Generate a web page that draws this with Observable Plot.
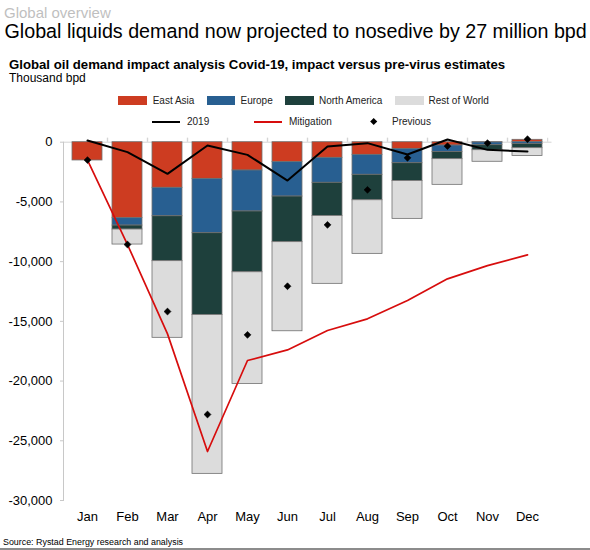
<!DOCTYPE html>
<html><head><meta charset="utf-8">
<script src="https://cdn.jsdelivr.net/npm/d3@7"></script>
<script src="https://cdn.jsdelivr.net/npm/@observablehq/plot@0.6"></script>
<style>
body{margin:0;background:#fff;font-family:"Liberation Sans",Arial,sans-serif;}
#wrap{position:relative;width:590px;height:550px;overflow:hidden;background:#fff;}
.t{position:absolute;white-space:nowrap;line-height:1;}
.sw{position:absolute;}
#chart{position:absolute;left:0;top:128px;}
</style></head><body><div id="wrap">
<div class="t" style="left:4px;top:4.5px;font-size:15px;color:#bfbfbf;">Global overview</div>
<div class="t" style="left:4.5px;top:22.3px;font-size:19.7px;color:#000;">Global liquids demand now projected to nosedive by 27 million bpd</div>
<div class="t" style="left:9px;top:57.8px;font-size:13.2px;font-weight:bold;color:#000;">Global oil demand impact analysis Covid-19, impact versus pre-virus estimates</div>
<div class="t" style="left:9px;top:71.8px;font-size:12px;color:#000;">Thousand bpd</div>
<div id="legend"></div>
<div id="chart"></div>
<div class="t" style="left:3px;top:538px;font-size:8.9px;color:#000;">Source: Rystad Energy research and analysis</div>
<div style="position:absolute;left:0;top:548px;width:590px;height:2px;background:#8c8c8c;"></div>
</div>
<script>
const months = ["Jan","Feb","Mar","Apr","May","Jun","Jul","Aug","Sep","Oct","Nov","Dec"];
const seriesNames = ["East Asia","Europe","North America","Rest of World"];
const seriesColors = ["#cd3c21","#285f91","#1e403c","#dcdcdc"];
const eastAsia     = [-1530,-6360,-3820,-3070,-2370,-1670,-1310,-1060,-560,-280,-20,200];
const europe       = [0,-620,-2380,-4550,-3430,-2880,-2090,-1670,-1200,-550,-230,-150];
const northAmerica = [0,-330,-3760,-6840,-5090,-3820,-2770,-2130,-1480,-590,-420,-350];
const restOfWorld  = [0,-1260,-6420,-13310,-9350,-7460,-5690,-4490,-3180,-2150,-970,-650];
const line2019     = [140,-830,-2650,-280,-1060,-3210,-360,-80,-1030,230,-640,-780];
const mitigation   = [-1500,-8570,-16050,-25900,-18280,-17390,-15770,-14790,-13260,-11440,-10330,-9430];
const previous     = [-1500,-8570,-14180,-22800,-16130,-12060,-6920,-3990,-1310,-330,-80,250];
const yTicks = [0,-5000,-10000,-15000,-20000,-25000,-30000];

const regionValues = [eastAsia, europe, northAmerica, restOfWorld];
const bars = months.flatMap((m, i) => seriesNames.map((r, k) => ({month: m, region: r, value: regionValues[k][i]})));
const rows = (arr) => months.map((m, i) => ({month: m, value: arr[i]}));

const W = 590, ML = 63, MR = 38.5, PI = 0.25, PO = 0.17;
const step = (W - ML - MR) / (months.length - PI + 2 * PO);
const boundaries = months.map((m) => ({month: m, side: -1})).concat(months.map((m) => ({month: m, side: 1})));

const chart = Plot.plot({
  width: W, height: 402,
  marginTop: 13.7, marginBottom: 30, marginLeft: ML, marginRight: MR,
  x: {domain: months, paddingInner: PI, paddingOuter: PO, label: null, axis: null},
  y: {domain: [-30000, 0], label: null, axis: null},
  color: {domain: seriesNames, range: seriesColors},
  style: {fontFamily: '"Liberation Sans", Arial, sans-serif', fontSize: "13px", color: "#000", background: "transparent", overflow: "visible"},
  marks: [
    Plot.ruleY([0], {stroke: "#d4d4d4", strokeWidth: 1}),
    Plot.ruleX(boundaries, {x: "month", dx: (step / 2), y1: 0, y2: 330, stroke: "#d4d4d4", filter: d => d.side === 1}),
    Plot.ruleX(boundaries, {x: "month", dx: -(step / 2), y1: 0, y2: 330, stroke: "#d4d4d4", filter: d => d.side === -1 && d.month !== "Jan"}),
    Plot.barY(bars, {x: "month", y: "value", fill: "region", stroke: "#707070", strokeWidth: 0.8, order: seriesNames}),
    Plot.line(rows(line2019), {x: "month", y: "value", stroke: "#000", strokeWidth: 2}),
    Plot.line(rows(mitigation), {x: "month", y: "value", stroke: "#d70d0d", strokeWidth: 1.7}),
    Plot.dot(rows(previous), {x: "month", y: "value", symbol: "diamond2", r: 3.1, fill: "#000", stroke: "#000", strokeWidth: 0.6}),
    Plot.axisY({ticks: yTicks, tickSize: 3, tickPadding: 8, stroke: "#c8c8c8", fill: "#000", tickFormat: d => d.toLocaleString("en-US"), fontSize: 13}),
    Plot.axisX({tickSize: 0, tickPadding: 11, fill: "#000", fontSize: 13}),
    Plot.frame({anchor: "left", stroke: "#c8c8c8"})
  ]
});
document.getElementById("chart").appendChild(chart);

// Legend
const legend = document.getElementById("legend");
const swX = [118.3, 206.7, 285, 395];
const lbX = [152.7, 240.5, 319, 428.5];
seriesNames.forEach((name, k) => {
  const s = document.createElement("div");
  s.className = "sw";
  s.style.cssText = `left:${swX[k]}px;top:95.5px;width:28.5px;height:9px;background:${seriesColors[k]};`;
  legend.appendChild(s);
  const t = document.createElement("div");
  t.className = "t";
  t.style.cssText = `left:${lbX[k]}px;top:95.6px;font-size:10px;color:#222;`;
  t.textContent = name;
  legend.appendChild(t);
});
const lineItems = [
  {label: "2019", color: "#000", sx: 152, lx: 187},
  {label: "Mitigation", color: "#d70d0d", sx: 253.5, lx: 289}
];
lineItems.forEach(it => {
  const s = document.createElement("div");
  s.className = "sw";
  s.style.cssText = `left:${it.sx}px;top:121px;width:28px;height:2px;background:${it.color};`;
  legend.appendChild(s);
  const t = document.createElement("div");
  t.className = "t";
  t.style.cssText = `left:${it.lx}px;top:116.8px;font-size:10px;color:#222;`;
  t.textContent = it.label;
  legend.appendChild(t);
});
const dm = document.createElement("div");
dm.className = "sw";
dm.style.cssText = "left:370.8px;top:119.2px;width:5.4px;height:5.4px;background:#000;transform:rotate(45deg);";
legend.appendChild(dm);
const pt = document.createElement("div");
pt.className = "t";
pt.style.cssText = "left:392px;top:116.8px;font-size:10px;color:#222;";
pt.textContent = "Previous";
legend.appendChild(pt);
</script>
</body></html>
